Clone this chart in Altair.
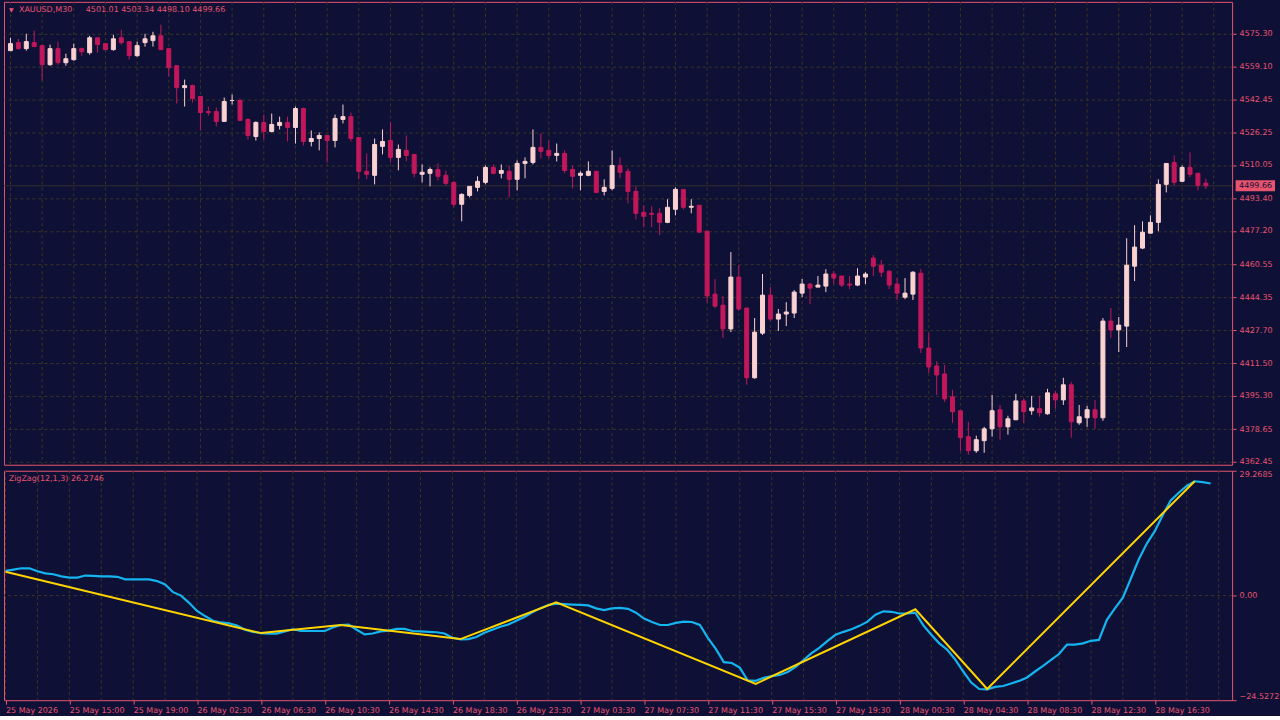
import altair as alt
import pandas as pd
import numpy as np

# ---------------- data ----------------
TIME_LABELS = ["25 May 2026", "25 May 15:00", "25 May 19:00", "26 May 02:30", "26 May 06:30",
               "26 May 10:30", "26 May 14:30", "26 May 18:30", "26 May 23:30", "27 May 03:30",
               "27 May 07:30", "27 May 11:30", "27 May 15:30", "27 May 19:30", "28 May 00:30",
               "28 May 04:30", "28 May 08:30", "28 May 12:30", "28 May 16:30"]

PRICE_TICKS = [4575.30, 4559.10, 4542.45, 4526.25, 4510.05, 4493.40, 4477.20,
               4460.55, 4444.35, 4427.70, 4411.50, 4395.30, 4378.65, 4362.45]

OSC_TICKS = [29.2685, 0.0, -24.5272]

O = [4566.9, 4570.9, 4567.9, 4570.9, 4569.4, 4559.9, 4567.9, 4560.9, 4562.4, 4567.9,
     4565.9, 4573.3, 4570.4, 4567.4, 4573.3, 4571.4, 4564.4, 4570.9, 4571.9, 4574.3,
     4567.9, 4559.4, 4548.5, 4549.5, 4544.1, 4536.6, 4536.6, 4531.7, 4542.1, 4542.1,
     4532.7, 4524.2, 4531.2, 4526.7, 4529.7, 4531.2, 4528.7, 4538.1, 4521.7, 4523.2,
     4524.7, 4522.2, 4532.7, 4534.1, 4523.7, 4506.9, 4504.9, 4519.3, 4522.2, 4513.8,
     4517.3, 4515.3, 4505.4, 4505.9, 4507.8, 4504.9, 4501.4, 4490.5, 4494.9, 4498.9,
     4501.4, 4508.8, 4505.9, 4506.9, 4502.9, 4510.8, 4511.3, 4518.8, 4517.3, 4514.8,
     4515.8, 4507.8, 4504.9, 4504.9, 4506.9, 4496.9, 4498.4, 4509.8, 4506.9, 4496.9,
     4486.5, 4486.0, 4486.0, 4481.5, 4488.0, 4497.9, 4489.0, 4490.0, 4477.1, 4445.8,
     4440.3, 4428.5, 4454.3, 4438.9, 4404.2, 4426.4, 4445.3, 4433.4, 4435.9, 4436.4,
     4446.3, 4450.8, 4449.3, 4449.8, 4455.8, 4454.8, 4450.8, 4450.3, 4454.3, 4463.7,
     4460.2, 4457.2, 4450.8, 4444.3, 4445.8, 4456.2, 4419.0, 4410.1, 4406.1, 4394.7,
     4387.8, 4374.9, 4367.9, 4372.9, 4378.8, 4388.3, 4379.8, 4383.3, 4392.7, 4387.8,
     4388.8, 4386.3, 4396.2, 4393.2, 4400.7, 4381.8, 4384.3, 4388.3, 4384.3, 4432.4,
     4428.0, 4429.9, 4459.7, 4468.7, 4476.1, 4481.5, 4500.4, 4511.3, 4501.9, 4508.8,
     4505.9, 4501.01]

H = [4573.3, 4572.8, 4575.3, 4576.8, 4569.4, 4569.9, 4571.4, 4565.4, 4570.4, 4568.4,
     4574.3, 4573.3, 4570.4, 4574.8, 4577.3, 4571.4, 4571.4, 4575.3, 4576.3, 4579.8,
     4567.9, 4559.4, 4552.5, 4550.0, 4544.1, 4539.1, 4538.6, 4543.6, 4545.1, 4543.1,
     4533.2, 4531.7, 4535.1, 4535.6, 4534.1, 4534.1, 4539.1, 4538.6, 4527.2, 4526.2,
     4524.7, 4535.1, 4540.1, 4536.1, 4523.7, 4515.8, 4523.2, 4527.7, 4531.2, 4520.2,
     4524.7, 4515.3, 4510.3, 4508.8, 4510.8, 4507.3, 4501.9, 4495.9, 4499.4, 4504.4,
     4509.8, 4510.3, 4510.3, 4509.8, 4512.3, 4513.8, 4527.7, 4525.7, 4522.2, 4520.7,
     4517.3, 4509.8, 4506.9, 4511.8, 4506.9, 4502.9, 4517.3, 4513.8, 4508.3, 4499.4,
     4490.0, 4489.5, 4488.5, 4493.0, 4498.9, 4497.9, 4493.0, 4490.0, 4477.1, 4453.3,
     4444.8, 4466.7, 4460.2, 4438.9, 4433.9, 4455.8, 4449.3, 4438.4, 4441.8, 4447.8,
     4453.3, 4451.3, 4454.8, 4458.2, 4457.2, 4454.8, 4454.8, 4458.7, 4456.7, 4465.2,
     4462.7, 4457.7, 4453.8, 4453.8, 4457.2, 4458.2, 4426.4, 4412.5, 4410.6, 4398.2,
     4387.8, 4382.3, 4375.4, 4379.8, 4395.7, 4390.7, 4385.3, 4396.2, 4393.7, 4395.2,
     4395.2, 4398.7, 4397.7, 4404.2, 4402.2, 4390.7, 4390.2, 4393.2, 4433.9, 4438.9,
     4434.4, 4473.6, 4480.1, 4482.0, 4485.0, 4502.9, 4510.8, 4514.8, 4509.8, 4516.3,
     4505.9, 4503.34]

L = [4566.9, 4567.4, 4566.9, 4568.9, 4552.0, 4559.4, 4559.9, 4559.4, 4561.9, 4564.4,
     4564.9, 4565.9, 4567.4, 4566.9, 4569.9, 4562.4, 4563.9, 4568.9, 4568.9, 4567.4,
     4554.0, 4540.6, 4539.1, 4541.1, 4527.2, 4534.6, 4529.2, 4531.7, 4540.1, 4532.2,
     4522.7, 4522.2, 4522.7, 4526.2, 4527.7, 4521.7, 4520.7, 4519.7, 4519.3, 4517.3,
     4511.3, 4518.8, 4530.7, 4521.7, 4502.9, 4502.9, 4500.4, 4515.3, 4511.3, 4507.4,
     4511.8, 4503.9, 4501.4, 4499.4, 4502.4, 4499.9, 4489.0, 4482.0, 4493.9, 4496.9,
     4500.4, 4505.4, 4503.4, 4493.9, 4497.4, 4503.4, 4510.3, 4513.3, 4513.3, 4511.8,
     4505.9, 4498.4, 4497.4, 4504.4, 4496.4, 4494.9, 4497.4, 4503.4, 4491.0, 4483.0,
     4479.1, 4479.1, 4475.1, 4481.1, 4485.0, 4488.0, 4486.0, 4476.6, 4441.8, 4438.9,
     4424.0, 4426.9, 4437.4, 4400.7, 4403.7, 4425.5, 4432.4, 4427.5, 4429.9, 4433.9,
     4444.3, 4440.8, 4449.3, 4446.8, 4450.8, 4449.3, 4448.3, 4449.8, 4450.8, 4454.8,
     4454.3, 4448.3, 4442.9, 4443.3, 4442.9, 4416.5, 4406.6, 4395.7, 4392.2, 4381.8,
     4367.9, 4365.9, 4366.9, 4366.9, 4374.9, 4373.4, 4375.9, 4383.3, 4381.8, 4385.8,
     4384.8, 4385.8, 4388.8, 4390.7, 4374.4, 4380.8, 4379.8, 4378.8, 4382.8, 4424.0,
     4417.0, 4419.5, 4452.3, 4468.2, 4476.1, 4477.1, 4496.4, 4499.9, 4501.9, 4503.9,
     4497.4, 4498.10]

C = [4570.4, 4567.9, 4571.4, 4568.9, 4559.9, 4567.9, 4560.9, 4562.9, 4567.9, 4566.4,
     4573.3, 4569.9, 4567.4, 4572.8, 4570.9, 4564.4, 4569.4, 4572.8, 4574.3, 4567.4,
     4558.4, 4548.5, 4549.5, 4543.1, 4536.1, 4536.1, 4531.7, 4541.6, 4542.1, 4532.2,
     4524.7, 4531.2, 4526.7, 4530.2, 4531.2, 4528.7, 4538.1, 4521.7, 4523.2, 4524.7,
     4522.2, 4533.2, 4534.1, 4523.2, 4506.9, 4505.4, 4520.2, 4521.7, 4513.8, 4517.8,
     4514.8, 4505.9, 4506.4, 4507.8, 4504.4, 4500.9, 4490.5, 4495.4, 4499.4, 4501.9,
     4508.8, 4505.9, 4507.3, 4502.9, 4510.8, 4511.8, 4518.8, 4516.8, 4514.8, 4515.8,
     4507.3, 4504.4, 4505.9, 4506.9, 4496.4, 4498.9, 4509.8, 4506.4, 4496.9, 4486.0,
     4484.5, 4485.5, 4481.5, 4489.0, 4497.9, 4489.0, 4489.5, 4476.6, 4444.9, 4439.8,
     4428.5, 4454.3, 4438.4, 4404.2, 4426.9, 4445.3, 4433.4, 4435.9, 4436.9, 4446.8,
     4450.8, 4448.8, 4450.3, 4455.8, 4453.8, 4450.3, 4450.3, 4454.8, 4455.8, 4459.7,
     4456.7, 4450.3, 4446.3, 4446.3, 4456.7, 4419.0, 4409.6, 4405.6, 4393.7, 4387.3,
     4374.4, 4367.9, 4373.4, 4378.8, 4387.8, 4379.8, 4383.8, 4392.7, 4387.3, 4389.2,
     4386.8, 4396.7, 4393.2, 4400.7, 4382.3, 4384.8, 4388.3, 4384.3, 4432.4, 4428.0,
     4430.4, 4460.2, 4469.2, 4476.6, 4481.5, 4500.4, 4510.8, 4501.4, 4508.8, 4505.4,
     4499.9, 4499.66]

# oscillator (blue) value per bar
OSC = [5.8, 6.1, 6.4, 6.4, 5.7, 5.2, 5.0, 4.5, 4.2, 4.2,
       4.7, 4.6, 4.5, 4.5, 4.4, 3.8, 3.8, 3.8, 3.8, 3.4,
       2.6, 0.8, 0.0, -1.7, -3.6, -4.8, -5.9, -6.3, -6.5, -7.0,
       -8.0, -8.5, -8.8, -8.9, -8.9, -8.4, -7.9, -8.3, -8.3, -8.3,
       -8.3, -7.5, -6.9, -6.8, -8.0, -9.1, -8.9, -8.4, -8.2, -7.8,
       -7.8, -8.3, -8.4, -8.5, -8.6, -8.9, -9.9, -10.3, -10.2, -9.7,
       -8.7, -8.0, -7.3, -6.8, -5.9, -5.0, -3.9, -3.0, -2.2, -1.9,
       -2.0, -2.1, -2.2, -2.3, -3.0, -3.4, -3.0, -2.9, -3.1, -4.0,
       -5.4, -6.2, -6.9, -6.9, -6.4, -6.1, -6.2, -6.9, -9.9, -12.5,
       -15.6, -15.8, -16.9, -19.9, -20.0, -19.3, -18.9, -18.6, -17.9, -16.7,
       -15.1, -13.5, -12.2, -10.6, -9.2, -8.5, -7.9, -7.1, -6.1, -4.5,
       -3.7, -3.8, -4.2, -4.2, -4.0, -7.0, -9.2, -11.2, -12.7, -15.0,
       -17.8, -20.4, -21.9, -22.0, -21.4, -21.2, -20.6, -20.0, -19.2, -17.8,
       -16.5, -15.1, -13.7, -11.5, -11.5, -11.2, -10.6, -10.4, -5.7, -3.0,
       -0.5, 4.0, 8.5, 12.2, 15.1, 18.9, 22.3, 24.1, 25.7, 26.8,
       26.6, 26.2746]

# zigzag vertices (bar index, value)
ZZ_BAR = [0, 32, 42, 57, 69, 94, 114, 123, 149]
ZZ_VAL = [5.6, -8.8, -6.9, -10.2, -1.6, -20.7, -3.2, -21.9, 26.8]

SYMBOL = "XAUUSD,M30"
IND_LABEL = "ZigZag(12,1,3) 26.2746"

# ---------------- styles ----------------
BG = "#0e1036"
FG = "#e8546e"
GRID = "#3d3624"
BULL = "#fad2d2"
BEAR = "#c2185b"
BLUE = "#14b4ef"
GOLD = "#ffd400"
PLINE = "#34312e"
FONT = "DejaVu Sans"
FS = 8

W = 1231
H1 = 464
H2 = 230

n = len(C)
bars = pd.DataFrame({"k": range(n), "o": O, "h": H, "l": L, "c": C})
bars["dir"] = np.where(bars["c"] >= bars["o"], "up", "down")

xscale = alt.Scale(domain=[-0.1875, -0.1875 + W / 8], nice=False, zero=False)
yscale = alt.Scale(domain=[4360.94, 4591.18], nice=False, zero=False)
yscale2 = alt.Scale(domain=[OSC_TICKS[2], OSC_TICKS[0]], nice=False, zero=False)
cscale = alt.Scale(domain=["up", "down"], range=[BULL, BEAR])

price_axis = alt.Axis(orient="right", values=PRICE_TICKS, tickCount=len(PRICE_TICKS) + 6,
                      format=".2f", title=None,
                      grid=True, gridColor=GRID, gridDash=[3, 3], gridWidth=1,
                      domain=False, ticks=True, tickColor=FG, tickSize=4,
                      labelColor=FG, labelFont=FONT, labelFontSize=FS,
                      labelPadding=3, labelOverlap=False)

label_js = "[" + ",".join(f"'{s}'" for s in TIME_LABELS) + "][round(datum.value / 8)]"
time_axis = alt.Axis(values=list(range(0, 8 * len(TIME_LABELS), 8)), labelExpr=label_js,
                     tickCount=40, title=None, grid=False, domain=False, ticks=True,
                     tickColor=FG, tickSize=4, labelColor=FG, labelFont=FONT,
                     labelFontSize=FS, labelAlign="left", labelBaseline="top",
                     labelPadding=2, labelOverlap=False, labelFlush=False)

osc_axis = alt.Axis(orient="right", values=OSC_TICKS, tickCount=10, title=None,
                    labelExpr="datum.value == 0 ? '0.00' : format(datum.value, '.4f')",
                    grid=False, domain=False, ticks=True, tickColor=FG, tickSize=4,
                    labelColor=FG, labelFont=FONT, labelFontSize=FS, labelPadding=3,
                    labelFlush=True, labelOverlap=False)

grid_df = pd.DataFrame({"k": list(range(0, n + 4, 4))})
last = pd.DataFrame({"c": [C[-1]],
                     "ohlc": [f"{O[-1]:.2f} {H[-1]:.2f} {L[-1]:.2f} {C[-1]:.2f}"]})

# ---------------- top panel ----------------
vgrid = alt.Chart(grid_df).mark_rule(color=GRID, strokeDash=[3, 3], strokeWidth=1).encode(
    x=alt.X("k:Q", scale=xscale, axis=None)
)

price_line = alt.Chart(last).mark_rule(color=PLINE, strokeWidth=1).encode(
    y=alt.Y("c:Q", scale=yscale, axis=price_axis)
)

wicks = alt.Chart(bars).mark_rule(strokeWidth=1).encode(
    x=alt.X("k:Q", scale=xscale, axis=None),
    y=alt.Y("l:Q", scale=yscale, axis=price_axis),
    y2="h:Q",
    color=alt.Color("dir:N", scale=cscale, legend=None),
)

bodies = alt.Chart(bars).mark_bar(size=4, strokeWidth=1).encode(
    x=alt.X("k:Q", scale=xscale, axis=None),
    y=alt.Y("o:Q", scale=yscale, axis=price_axis),
    y2="c:Q",
    color=alt.Color("dir:N", scale=cscale, legend=None),
    stroke=alt.Stroke("dir:N", scale=cscale, legend=None),
)

tri = alt.Chart(last).mark_text(align="center", baseline="middle", font=FONT,
                                fontSize=6, color=FG).encode(
    x=alt.value(7.3), y=alt.value(8.6), text=alt.value("▼")
)

sym_text = alt.Chart(last).mark_text(align="left", baseline="middle", font=FONT,
                                     fontSize=FS, color=FG).encode(
    x=alt.value(15), y=alt.value(8.5), text=alt.value(SYMBOL)
)

ohlc_text = alt.Chart(last).mark_text(align="left", baseline="middle", font=FONT,
                                      fontSize=FS, color=FG).encode(
    x=alt.value(82), y=alt.value(8.5), text="ohlc:N"
)

box = alt.Chart(last).transform_calculate(
    top="datum.c + 2.75", bot="datum.c - 2.75"
).mark_rect(color=FG).encode(
    x=alt.value(W + 3.5), x2=alt.value(W + 43),
    y=alt.Y("top:Q", scale=yscale, axis=price_axis), y2="bot:Q"
)

box_text = alt.Chart(last).mark_text(align="left", baseline="middle", font=FONT,
                                     fontSize=FS, color=BG).encode(
    x=alt.value(W + 7), y=alt.Y("c:Q", scale=yscale, axis=price_axis),
    text=alt.Text("c:Q", format=".2f")
)

top = alt.layer(vgrid, price_line, wicks, bodies, tri, sym_text, ohlc_text, box, box_text
                ).properties(width=W, height=H1)

# ---------------- bottom panel ----------------
osc_df = pd.DataFrame({"k": range(n), "v": OSC})
zz_df = pd.DataFrame({"k": ZZ_BAR, "v": ZZ_VAL})
zero_df = pd.DataFrame({"v": [0.0]})

vgrid2 = alt.Chart(grid_df).mark_rule(color=GRID, strokeDash=[3, 3], strokeWidth=1).encode(
    x=alt.X("k:Q", scale=xscale, axis=time_axis)
)

zero_rule = alt.Chart(zero_df).mark_rule(color=GRID, strokeDash=[3, 3], strokeWidth=1).encode(
    y=alt.Y("v:Q", scale=yscale2, axis=osc_axis)
)

osc_line = alt.Chart(osc_df).mark_line(color=BLUE, strokeWidth=2.2).encode(
    x=alt.X("k:Q", scale=xscale, axis=time_axis),
    y=alt.Y("v:Q", scale=yscale2, axis=osc_axis)
)

zz_line = alt.Chart(zz_df).mark_line(color=GOLD, strokeWidth=2).encode(
    x=alt.X("k:Q", scale=xscale, axis=time_axis),
    y=alt.Y("v:Q", scale=yscale2, axis=osc_axis)
)

ind_text = alt.Chart(last).mark_text(align="left", baseline="middle", font=FONT,
                                     fontSize=FS, color=FG).encode(
    x=alt.value(4.7), y=alt.value(8.5), text=alt.value(IND_LABEL)
)

bottom = alt.layer(vgrid2, zero_rule, osc_line, zz_line, ind_text).properties(width=W, height=H2)

chart = alt.vconcat(top, bottom, spacing=3).properties(
    background=BG,
    padding={"left": 0, "top": 0, "right": 0, "bottom": 0},
).configure_view(stroke=FG, strokeWidth=1)

chart.save("out.html", embed_options={"renderer": "svg", "actions": False})
